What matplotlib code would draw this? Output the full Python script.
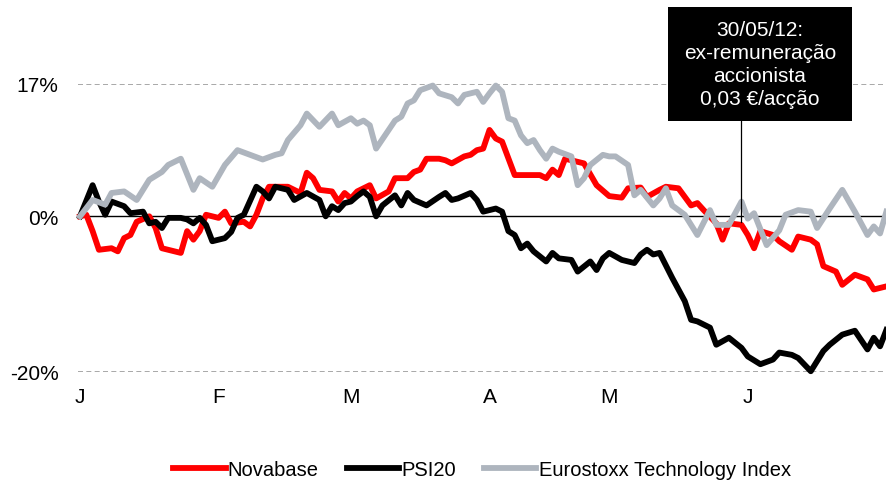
import matplotlib
matplotlib.use("Agg")
import matplotlib.pyplot as plt
from matplotlib.patches import Rectangle

plt.rcParams['font.family'] = ['Liberation Sans', 'DejaVu Sans']

# Dias de negociação desde 2 de janeiro de 2012 e variação acumulada (%)
novabase_dias = [0, 1, 2, 3, 5, 6, 7, 8, 9, 11, 12, 13, 14, 16, 17, 18, 19, 20, 22, 23,
                 24, 26, 27, 28, 29, 30, 32, 33, 35, 36, 37, 38, 40, 41, 42, 43, 44, 46, 47, 49,
                 50, 52, 53, 54, 55, 57, 58, 59, 61, 62, 63, 64, 65, 66, 67, 69, 70, 73, 74, 75,
                 76, 77, 78, 80, 82, 84, 86, 87, 89, 90, 92, 93, 95, 97, 98, 99, 101, 102, 103, 105,
                 106, 107, 108, 110, 111, 113, 114, 116, 117, 118, 120, 121, 123, 125, 126, 128]
novabase_var = [0, 0.2, -1.9, -4.3, -4.1, -4.5, -2.8, -2.4, -0.7, 0, -1.5, -4.1, -4.3, -4.7, -1.9, -3.0, -1.9, 0.2, -0.2, 0.6,
                -0.9, -0.7, -1.3, 0.2, 2.3, 3.8, 3.8, 3.8, 3.0, 5.6, 4.9, 3.4, 3.2, 1.9, 3.0, 2.3, 3.2, 4.0, 2.3, 3.2,
                4.9, 4.9, 5.7, 6.0, 7.4, 7.4, 7.2, 6.8, 7.7, 7.9, 8.5, 8.7, 11.1, 10.0, 9.6, 5.3, 5.3, 5.3, 4.9, 6.0,
                5.3, 7.4, 7.2, 6.8, 4.0, 2.6, 2.4, 3.6, 3.7, 2.5, 3.4, 3.8, 3.6, 1.4, 1.7, 0.8, -0.9, -3.0, -0.9, -1.1,
                -2.4, -4.1, -1.9, -2.4, -3.2, -4.3, -2.6, -3.0, -3.6, -6.4, -7.1, -8.8, -7.5, -8.1, -9.4, -9.0]

psi20_dias = [0, 2, 3, 4, 5, 7, 8, 10, 11, 12, 13, 14, 16, 17, 18, 19, 20, 21, 23, 24,
              25, 26, 28, 29, 30, 31, 33, 34, 36, 38, 39, 40, 41, 42, 43, 44, 45, 46, 47, 48,
              50, 51, 52, 53, 55, 57, 58, 59, 60, 62, 63, 64, 66, 67, 68, 69, 70, 71, 72, 74,
              75, 76, 78, 79, 81, 82, 83, 84, 86, 88, 89, 90, 91, 92, 94, 96, 97, 98, 100, 101,
              103, 105, 106, 108, 110, 111, 113, 114, 116, 118, 119, 121, 123, 125, 126, 127, 128]
psi20_var = [0, 4.0, 1.9, 0.2, 1.9, 1.3, 0.4, 0.6, -0.9, -0.7, -1.5, -0.2, -0.2, -0.4, -0.9, -0.2, -1.1, -3.2, -2.8, -2.0,
             -0.2, 0.2, 3.8, 3.2, 2.3, 3.8, 3.4, 2.1, 3.0, 2.1, 0, 1.3, 0.8, 1.7, 1.9, 2.6, 3.2, 2.5, 0, 1.4,
             2.7, 1.4, 3.0, 2.1, 1.4, 2.5, 3.0, 2.1, 2.3, 3.0, 2.1, 0.6, 1.0, 0.6, -1.9, -2.4, -4.1, -3.5, -4.5, -5.8,
             -4.7, -5.4, -5.6, -7.1, -5.8, -6.9, -5.4, -4.7, -5.6, -6.0, -4.9, -4.3, -4.9, -4.7, -7.9, -10.9, -13.3, -13.5, -14.3, -16.5,
             -15.6, -16.9, -18.0, -19.0, -18.4, -17.5, -17.8, -18.2, -19.9, -17.3, -16.5, -15.2, -14.7, -17.1, -15.6, -16.7, -14.6]

eurostoxx_dias = [0, 2, 4, 5, 7, 9, 11, 13, 14, 16, 18, 19, 21, 23, 25, 27, 29, 31, 32, 33,
                  35, 36, 38, 40, 41, 43, 44, 45, 46, 47, 49, 50, 51, 52, 53, 54, 56, 57, 59, 60,
                  61, 63, 64, 65, 66, 67, 68, 69, 70, 71, 72, 73, 74, 75, 76, 78, 79, 80, 81, 83,
                  84, 85, 87, 88, 89, 91, 92, 93, 94, 96, 98, 100, 101, 103, 105, 106, 107, 109, 111, 112,
                  114, 116, 117, 119, 121, 123, 125, 126, 127, 128]
eurostoxx_var = [0, 2.1, 1.5, 3.0, 3.2, 2.1, 4.7, 5.7, 6.6, 7.4, 3.4, 4.9, 3.8, 6.6, 8.5, 7.9, 7.3, 7.9, 8.1, 9.8,
                 11.7, 13.2, 11.5, 13.2, 11.7, 12.6, 11.9, 12.3, 11.7, 8.7, 11.1, 12.3, 12.8, 14.5, 14.9, 16.2, 16.8, 15.8, 15.3, 14.5,
                 15.6, 16.0, 14.7, 15.8, 16.8, 16.0, 12.6, 12.3, 10.4, 9.4, 9.8, 8.5, 7.4, 8.7, 8.3, 7.7, 4.0, 4.9, 6.6, 7.9,
                 7.7, 7.7, 6.6, 2.7, 3.4, 1.4, 2.3, 3.6, 1.4, 0.2, -2.4, 0.8, -1.1, -1.1, 1.9, -0.3, 0.4, -3.7, -1.8, 0.2,
                 0.8, 0.6, -1.5, 1.0, 3.4, 0.6, -2.4, -1.3, -2.2, 0.6]

meses = ['J', 'F', 'M', 'A', 'M', 'J']
meses_pos = [0, 22, 43, 65, 84, 106]
y_ticks = [-20, 0, 17]
y_labels = ['-20%', '0%', '17%']

evento_dia = 105
evento_texto = '30/05/12:\nex-remuneração\naccionista\n0,03 €/acção'

W, H = 887, 481
fig = plt.figure(figsize=(W / 100, H / 100), dpi=100)
ax = fig.add_axes([78 / W, (H - 373) / H, 809 / W, 288 / H])

cinza_grelha = '#999999'
for y in (17, -20):
    ax.axhline(y, color=cinza_grelha, lw=1.2, dashes=(3, 2), zorder=1)
ax.axhline(0, color='black', lw=1.0, zorder=1)

ax.plot(novabase_dias, novabase_var, color='#FF0000', lw=4.2, label='Novabase',
        solid_joinstyle='round', clip_on=False, zorder=3)
ax.plot(psi20_dias, psi20_var, color='black', lw=4.2, label='PSI20',
        solid_joinstyle='round', clip_on=False, zorder=4)
ax.plot(eurostoxx_dias, eurostoxx_var, color='#AEB5BE', lw=4.2, label='Eurostoxx Technology Index',
        solid_joinstyle='round', clip_on=False, zorder=5)

# linha vertical da anotação (parte de baixo da caixa até perto do zero)
ax.plot([evento_dia, evento_dia], [-0.7, 13], color='black', lw=0.9, clip_on=False, zorder=6)

ax.set_xlim(-0.32, 128.1)
ax.set_ylim(-20, 17)
ax.set_yticks(y_ticks)
ax.set_yticklabels(y_labels)
ax.set_xticks(meses_pos)
ax.set_xticklabels(meses)
ax.tick_params(axis='both', length=0, labelsize=15)
ax.tick_params(axis='y', pad=14)
ax.tick_params(axis='x', pad=11)
for s in ax.spines.values():
    s.set_visible(False)

# caixa preta da anotação
fig.patches.append(Rectangle((668 / W, (H - 122) / H), 184 / W, 114 / H,
                             transform=fig.transFigure, facecolor='black',
                             edgecolor='none', zorder=10))
fig.text(760 / W, 1 - 65 / H, evento_texto, color='white', fontsize=15,
         ha='center', va='center', linespacing=1.25, zorder=11)

fig.legend(loc='center', bbox_to_anchor=(482 / W, 1 - 471 / H), ncol=3, frameon=False,
           fontsize=14.5, handlelength=2.6, handletextpad=0.1, columnspacing=1.4)

fig.savefig('out.png', dpi=100)
